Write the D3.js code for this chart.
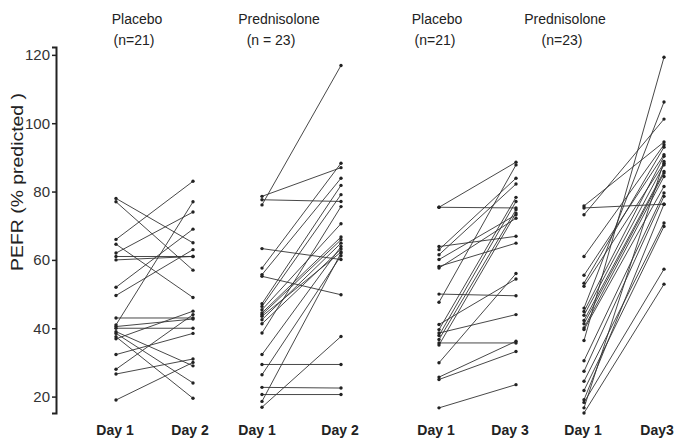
<!DOCTYPE html>
<html>
<head>
<meta charset="utf-8">
<script src="https://cdn.jsdelivr.net/npm/d3@7"></script>
<style>
  body { margin: 0; background: #fff; }
  svg text { font-family: "Liberation Sans", Arial, sans-serif; fill: #222; }
</style>
</head>
<body>
<svg id="chart"></svg>
<script>
// groups shown left to right
var groups = ["Placebo", "Prednisolone", "Placebo", "Prednisolone"];
var groupN = ["(n=21)", "(n = 23)", "(n=21)", "(n=23)"];
var dayLabels = [["Day 1", "Day 2"], ["Day 1", "Day 2"], ["Day 1", "Day 3"], ["Day 1", "Day3"]];
var yTicks = [20, 40, 60, 80, 100, 120];

// paired PEFR values (% predicted), [first day, second day]
var placeboDay2 = [
  [78, 65], [77, 57], [66, 83], [64.6, 49], [62, 74], [61, 61], [60, 61],
  [52, 69], [49.6, 63], [43, 43], [41, 77], [40.5, 42.7], [40, 40], [39, 29],
  [38.5, 24], [37.5, 19.5], [36.9, 45], [32.3, 38.5], [28, 44], [26.6, 31], [19, 30]
];
var predDay2 = [
  [76.1, 116.9], [78.6, 87.0], [77.6, 77.1], [63.3, 60.1], [57.6, 88.3], [55.7, 83.9],
  [55.2, 49.8], [47.2, 81.8], [46.4, 79.1], [45.4, 70.6], [44.5, 66.7], [44.0, 65.9],
  [43.5, 62.3], [42.5, 64.9], [41.3, 63.2], [38.6, 75.6], [32.3, 63.9], [29.4, 29.4],
  [26.4, 61.2], [22.7, 22.5], [20.6, 20.6], [18.6, 62.0], [16.9, 37.6]
];
var placeboDay3 = [
  [75.4, 88.6], [75.4, 75.2], [63.9, 66.9], [63.0, 83.9], [61.5, 82.2], [60.1, 73.2],
  [58.1, 64.9], [57.6, 72.2], [50.0, 49.5], [47.6, 87.8], [41.1, 54.4], [39.6, 78.3],
  [38.6, 44.0], [37.9, 77.1], [36.7, 74.7], [35.7, 35.7], [35.1, 73.7], [29.9, 56.0],
  [25.7, 36.2], [25.0, 33.2], [16.7, 23.5]
];
var predDay3 = [
  [75.8, 94.5], [75.2, 76.3], [73.2, 101.2], [61.0, 93.7], [55.5, 90.8], [53.2, 93.0],
  [52.3, 88.3], [45.9, 106.2], [44.9, 90.3], [43.8, 87.8], [42.3, 85.9], [41.3, 85.4],
  [40.1, 84.4], [39.6, 81.5], [36.4, 119.3], [30.5, 79.6], [27.4, 78.6], [24.5, 70.8],
  [21.8, 69.8], [19.1, 76.3], [18.3, 57.3], [16.7, 88.8], [15.2, 52.9]
];
var series = [placeboDay2, predDay2, placeboDay3, predDay3];

var width = 677, height = 440;
var svg = d3.select("#chart").attr("width", width).attr("height", height);

var y = d3.scaleLinear().domain([15.2, 122.3]).range([413, 47]);

// column positions: group index -> first / second day x
var colX = d3.scaleOrdinal()
    .domain(["0a", "0b", "1a", "1b", "2a", "2b", "3a", "3b"])
    .range([116, 193, 262, 341, 439, 516, 584, 664]);

// y axis
var yAxis = d3.axisLeft(y).tickValues(yTicks).tickSize(4).tickSizeOuter(4).tickPadding(2);
var ag = svg.append("g").attr("transform", "translate(56,0)").call(yAxis);
ag.select(".domain").attr("stroke", "#222").attr("stroke-width", 2);
ag.selectAll(".tick line").attr("stroke", "#222").attr("stroke-width", 1.5);
ag.selectAll(".tick text").attr("font-size", 15).style("fill", "#333");

svg.append("text")
    .attr("transform", "translate(23,182) rotate(-90)")
    .attr("text-anchor", "middle")
    .attr("font-size", 16.5)
    .attr("textLength", 178).attr("lengthAdjust", "spacingAndGlyphs")
    .text("PEFR (% predicted )");

// paired lines and dots
series.forEach(function(data, g) {
  var x1 = colX(g + "a"), x2 = colX(g + "b");
  var grp = svg.append("g");
  grp.selectAll("line").data(data).enter().append("line")
      .attr("x1", x1).attr("x2", x2)
      .attr("y1", function(d) { return y(d[0]); })
      .attr("y2", function(d) { return y(d[1]); })
      .attr("stroke", "#333").attr("stroke-width", 0.9);
  grp.selectAll("circle.a").data(data).enter().append("circle")
      .attr("cx", x1).attr("cy", function(d) { return y(d[0]); })
      .attr("r", 1.7).attr("fill", "#222");
  grp.selectAll("circle.b").data(data).enter().append("circle")
      .attr("cx", x2).attr("cy", function(d) { return y(d[1]); })
      .attr("r", 1.7).attr("fill", "#222");
});

// group titles
var titleX = [137, 279, 437, 565];
var nX = [134, 271, 435, 562];
groups.forEach(function(t, i) {
  svg.append("text").attr("x", titleX[i]).attr("y", 24)
      .attr("text-anchor", "middle").attr("font-size", 14).text(t);
  svg.append("text").attr("x", nX[i]).attr("y", 45)
      .attr("text-anchor", "middle").attr("font-size", 14).text(groupN[i]);
});

// day labels
var dayOffset = [[-1, -3], [-5, -1], [-3, -6], [-1, -7]];
dayLabels.forEach(function(pair, g) {
  svg.append("text").attr("x", colX(g + "a") + dayOffset[g][0]).attr("y", 435)
      .attr("text-anchor", "middle").attr("font-size", 14).attr("font-weight", "bold").text(pair[0]);
  svg.append("text").attr("x", colX(g + "b") + dayOffset[g][1]).attr("y", 435)
      .attr("text-anchor", "middle").attr("font-size", 14).attr("font-weight", "bold").text(pair[1]);
});
</script>
</body>
</html>
